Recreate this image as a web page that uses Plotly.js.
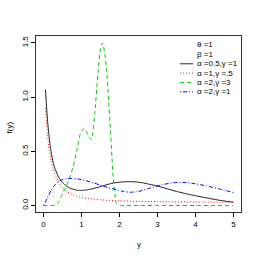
<!DOCTYPE html>
<html>
<head>
<meta charset="utf-8">
<script src="https://cdn.plot.ly/plotly-3.0.1.min.js"></script>
<style>html,body{margin:0;padding:0;background:#fff;}#chart{width:259px;height:259px;}</style>
</head>
<body>
<div id="chart"></div>
<script>
// Series
const xBlack = [0.05,0.1,0.15,0.2,0.25,0.3,0.4,0.5,0.6,0.7,0.8,0.9,1.0,1.1,1.2,1.4,1.6,1.8,2.0,2.2,2.4,2.6,2.8,3.0,3.2,3.5,3.8,4.0,4.3,4.6,5.0];
const yBlack = [1.07,0.80,0.62,0.49,0.40,0.34,0.26,0.21,0.18,0.16,0.148,0.14,0.14,0.142,0.148,0.165,0.185,0.205,0.215,0.22,0.218,0.21,0.195,0.18,0.16,0.13,0.105,0.09,0.07,0.05,0.03];

const xRed = [0.05,0.1,0.15,0.2,0.25,0.3,0.4,0.5,0.6,0.7,0.8,1.0,1.2,1.5,2.0,2.5,3.0,4.0,5.0];
const yRed = [0.90,0.66,0.51,0.41,0.34,0.29,0.21,0.16,0.13,0.11,0.095,0.075,0.063,0.052,0.043,0.038,0.035,0.032,0.03];

const xGreen = [0,0.1,0.2,0.3,0.4,0.47,0.6,0.7,0.78,0.9,0.95,1.0,1.07,1.12,1.18,1.26,1.3,1.35,1.4,1.44,1.5,1.55,1.6,1.66,1.71,1.76,1.8,1.83,1.88,1.92,2.0,2.5,3.0,3.5,4.0,4.5,5.0];
const yGreen = [0,0,0,0.003,0.03,0.085,0.18,0.27,0.36,0.55,0.64,0.69,0.71,0.69,0.64,0.61,0.68,0.85,1.08,1.25,1.45,1.50,1.43,1.25,0.98,0.70,0.45,0.27,0.10,0.02,0.002,0,0,0,0,0,0];

const xBlue = [0,0.1,0.2,0.3,0.38,0.5,0.6,0.73,0.9,1.1,1.3,1.48,1.7,1.92,2.1,2.27,2.5,2.8,3.1,3.42,3.7,4.0,4.3,4.6,5.0];
const yBlue = [0,0.07,0.14,0.19,0.22,0.24,0.248,0.25,0.245,0.23,0.21,0.19,0.165,0.145,0.13,0.122,0.13,0.16,0.19,0.21,0.213,0.2,0.18,0.155,0.12];

const legendLabels = ["\u03b8 =1","\u03b2 =1","\u03b1 =0.5,\u03b3 =1","\u03b1 =1,\u03b3 =.5","\u03b1 =2,\u03b3 =3","\u03b1 =2,\u03b3 =1"];
const xTicks = [0,1,2,3,4,5];
const yTicks = [0,0.5,1.0,1.5];
const yTickText = ["0.0","0.5","1.0","1.5"];

const colors = ["#222222","#FF0000","#00CD00","#0000FF"];
const dashes = ["solid","1px,2px","4px,3px","1px,2px,4px,2px"];
const series = [[xBlack,yBlack],[xRed,yRed],[xGreen,yGreen],[xBlue,yBlue]];

const traces = series.map((s,i)=>({
  x:s[0], y:s[1], type:'scatter', mode:'lines', line:{color:colors[i],width:1,dash:dashes[i],shape:'spline',smoothing:0.6},
  showlegend:false, hoverinfo:'skip'
}));

const font = {family:'Liberation Sans, Arial, sans-serif', size:8, color:'#000000'};

// legend built from annotations and short line shapes (paper coords)
const rowY = [0.949,0.896,0.842,0.789,0.736,0.683];
const annotations = legendLabels.map((t,i)=>({
  xref:'paper', yref:'paper', x:0.778, y:rowY[i], text:t, showarrow:false,
  xanchor:'left', yanchor:'middle', font:font
}));
annotations.push({xref:'paper',yref:'paper',x:-0.127,y:0.48,text:'f(y)',showarrow:false,textangle:-90,font:font,xanchor:'center',yanchor:'middle'});
annotations.push({xref:'paper',yref:'paper',x:0.5,y:-0.185,text:'y',showarrow:false,font:font,xanchor:'center',yanchor:'middle'});

const shapes = [];
for (let i=0;i<4;i++){
  shapes.push({type:'line',xref:'paper',yref:'paper',x0:0.703,x1:0.766,y0:rowY[i+2],y1:rowY[i+2],line:{color:colors[i],width:1,dash:dashes[i]}});
}

const layout = {
  width:259, height:259,
  margin:{l:36,r:18,t:36,b:47,pad:0},
  paper_bgcolor:'#fff', plot_bgcolor:'#fff',
  font:font,
  showlegend:false,
  xaxis:{range:[-0.2,5.2], tickvals:xTicks, ticktext:xTicks.map(String), ticks:'outside', ticklen:4, tickwidth:1, tickcolor:'#000',
         showline:true, mirror:true, linecolor:'#333', linewidth:1, showgrid:false, zeroline:false, tickfont:font, automargin:false},
  yaxis:{range:[-0.06,1.564], tickvals:yTicks, ticktext:yTickText, ticks:'outside', ticklen:4, tickwidth:1, tickcolor:'#000',
         showline:true, mirror:true, linecolor:'#333', linewidth:1, showgrid:false, zeroline:false, tickangle:-90, tickfont:font, automargin:false},
  annotations:annotations,
  shapes:shapes
};

Plotly.newPlot('chart', traces, layout, {staticPlot:true, displayModeBar:false});
</script>
</body>
</html>
